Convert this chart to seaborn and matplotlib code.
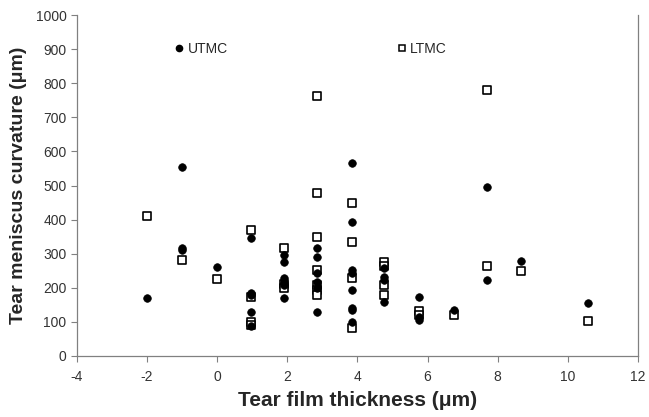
import matplotlib
matplotlib.use("Agg")
import matplotlib.pyplot as plt
import seaborn as sns
import pandas as pd
from matplotlib.lines import Line2D

sns.set_style("white")
plt.rcParams['font.family'] = ['Liberation Sans', 'DejaVu Sans']

# UTMC (filled circles)
utmc_x = [-2, -1, -1, -1, 0,
          0.95, 0.95, 0.95, 0.95, 0.95,
          1.9, 1.9, 1.9, 1.9, 1.9, 1.9,
          2.85, 2.85, 2.85, 2.85, 2.85, 2.85,
          3.85, 3.85, 3.85, 3.85, 3.85, 3.85, 3.85, 3.85,
          4.77, 4.77, 4.77, 4.77,
          5.75, 5.75, 5.75,
          6.75,
          7.7, 7.7,
          8.66,
          10.58]
utmc_y = [170, 555, 316, 311, 262,
          345, 184, 179, 130, 89,
          296, 277, 228, 218, 208, 169,
          316, 291, 242, 218, 200, 130,
          565, 392, 252, 242, 193, 140, 135, 101,
          257, 233, 223, 157,
          174, 115, 106,
          135,
          497, 223,
          279,
          156]

# LTMC (open squares)
ltmc_x = [-2, -1, 0,
          0.95, 0.95, 0.95, 0.95,
          1.9, 1.9, 1.9,
          2.85, 2.85, 2.85, 2.85, 2.85, 2.85, 2.85,
          3.85, 3.85, 3.85, 3.85,
          4.77, 4.77, 4.77, 4.77,
          5.75, 5.75,
          6.75,
          7.7, 7.7,
          8.66,
          10.58]
ltmc_y = [410, 281, 226,
          370, 172, 99, 92,
          316, 212, 200,
          762, 477, 350, 252, 208, 194, 179,
          450, 335, 228, 81,
          277, 264, 208, 179,
          132, 120,
          120,
          779, 265,
          250,
          103]

series_names = ["UTMC", "LTMC"]
x_ticks = [-4, -2, 0, 2, 4, 6, 8, 10, 12]
y_ticks = [0, 100, 200, 300, 400, 500, 600, 700, 800, 900, 1000]

df = pd.concat([
    pd.DataFrame({"x": utmc_x, "y": utmc_y, "series": "UTMC"}),
    pd.DataFrame({"x": ltmc_x, "y": ltmc_y, "series": "LTMC"}),
])

fig = plt.figure(figsize=(6.49, 4.17), dpi=100)
ax = fig.add_axes([0.1186, 0.1463, 0.8644, 0.8177])

sns.scatterplot(data=df[df.series == "LTMC"], x="x", y="y", marker="s",
                s=30, facecolor="white", edgecolor="black", linewidth=1.2,
                ax=ax, legend=False, zorder=3)
sns.scatterplot(data=df[df.series == "UTMC"], x="x", y="y", marker="o",
                s=30, color="black", edgecolor="black", linewidth=0.5,
                ax=ax, legend=False, zorder=4)

ax.set_xlim(-4, 12)
ax.set_ylim(0, 1000)
ax.set_xticks(x_ticks)
ax.set_yticks(y_ticks)
ax.set_xticklabels([str(t) for t in x_ticks])
ax.set_yticklabels([str(t) for t in y_ticks])
ax.tick_params(axis="both", which="both", direction="out", length=4,
               width=0.8, color="#808080", labelsize=10, labelcolor="#333333",
               left=True, bottom=True)
ax.tick_params(axis="x", pad=6)
for side in ["left", "bottom", "right", "top"]:
    ax.spines[side].set_color("#808080")
    ax.spines[side].set_linewidth(0.9)
ax.spines["top"].set_visible(False)

ax.set_xlabel("Tear film thickness (μm)", fontsize=15, fontweight="bold", labelpad=5)
ax.set_ylabel("Tear meniscus curvature (μm)", fontsize=14, fontweight="bold", labelpad=6)

h1 = Line2D([], [], marker="o", linestyle="none", color="black", markersize=4.5)
h2 = Line2D([], [], marker="s", linestyle="none", markerfacecolor="white",
            markeredgecolor="black", markersize=4.5, markeredgewidth=1.1)
leg1 = ax.legend([h1], [series_names[0]], loc="center left",
                 bbox_to_anchor=(0.17, 0.90), frameon=False, fontsize=10,
                 handletextpad=0.1, handlelength=1.0, borderpad=0, borderaxespad=0)
ax.add_artist(leg1)
ax.legend([h2], [series_names[1]], loc="center left",
          bbox_to_anchor=(0.567, 0.90), frameon=False, fontsize=10,
          handletextpad=0.1, handlelength=1.0, borderpad=0, borderaxespad=0)

fig.savefig("out.png", dpi=100)
